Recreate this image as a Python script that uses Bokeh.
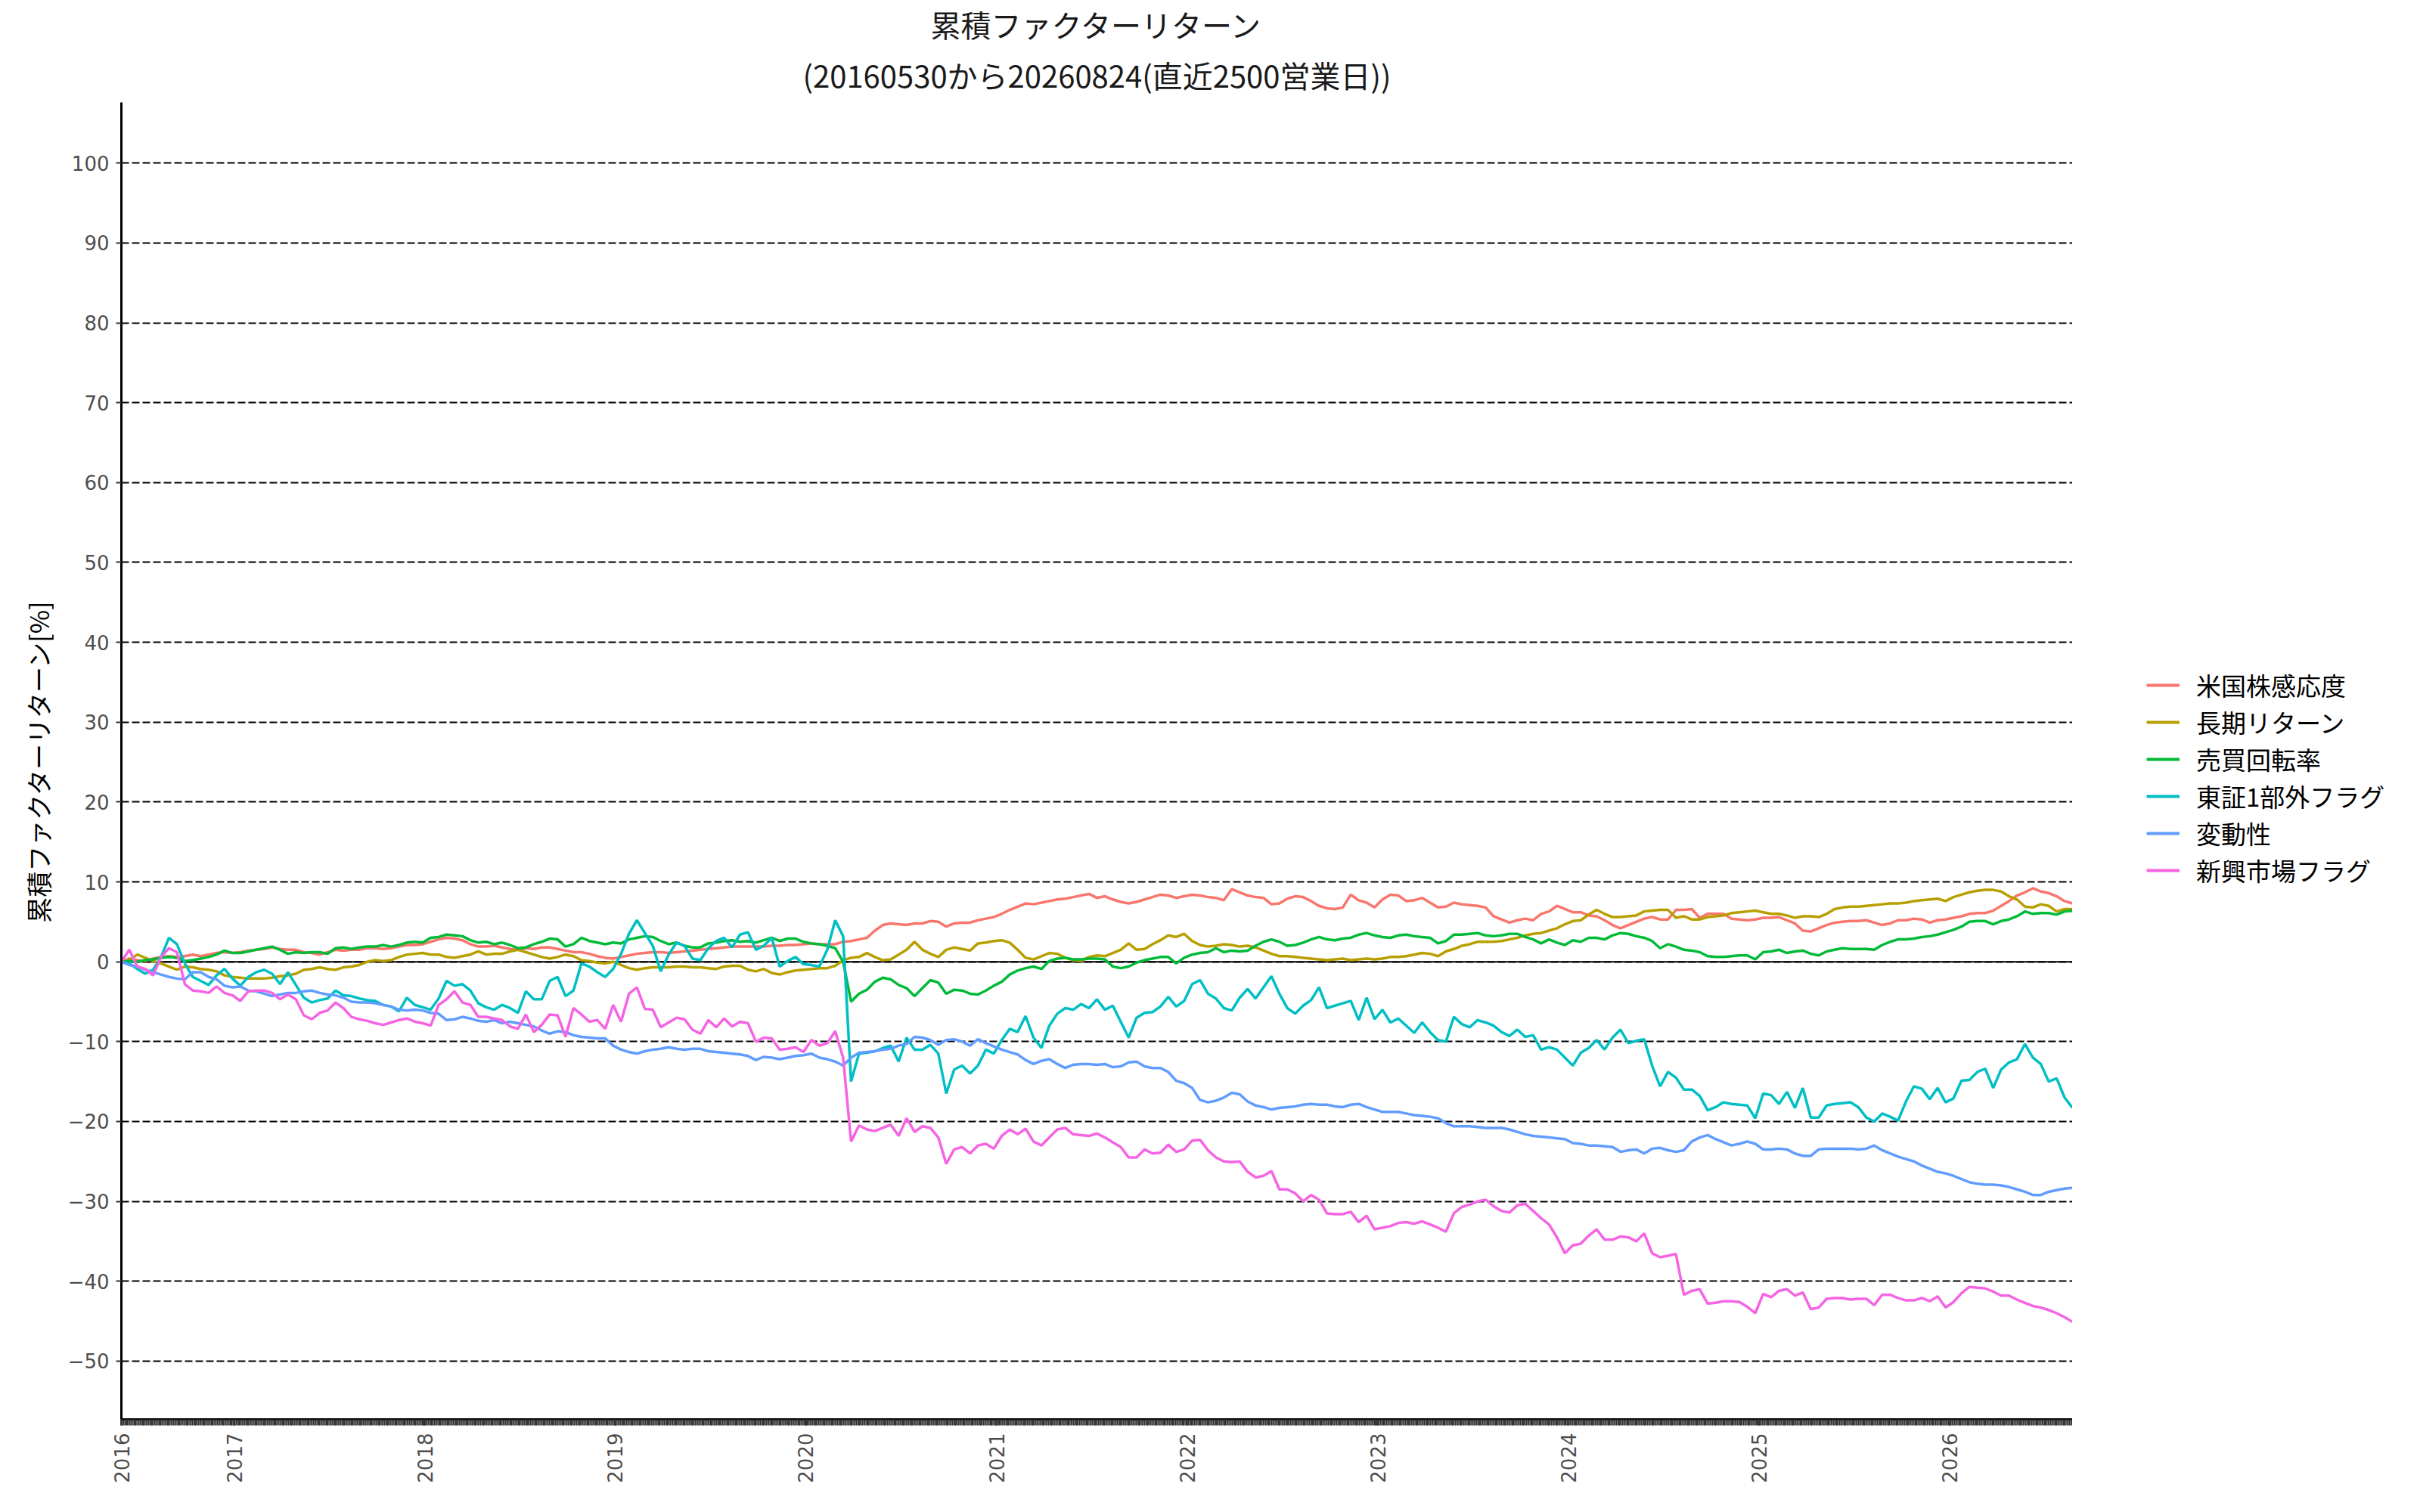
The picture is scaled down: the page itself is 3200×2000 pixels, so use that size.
import math
import pandas as pd
from bokeh.plotting import figure
from bokeh.layouts import row
from bokeh.models import (Range1d, FixedTicker, DatetimeTickFormatter, Span,
                          Legend, LegendItem, Title)
from bokeh.embed import file_html
from bokeh.resources import INLINE

START = "2016-05-30"
END = "2026-08-24"

title_lines = ["累積ファクターリターン", "(20160530から20260824(直近2500営業日))"]
names = ["米国株感応度", "長期リターン", "売買回転率", "東証1部外フラグ", "変動性", "新興市場フラグ"]
colors = ["#F8766D", "#B79F00", "#00BA38", "#00BFC4", "#619CFF", "#F564E3"]

us_sensitivity = [
    0, 0.4, 0.2, 0.1, 0.4, 0.6, 0.7, 0.6, 0.7, 0.9,
    0.7, 0.9, 1.1, 1.2, 1.1, 1.2, 1.4, 1.5, 1.6, 1.8,
    1.6, 1.5, 1.5, 1.2, 1.1, 0.9, 1.2, 1.5, 1.4, 1.5,
    1.5, 1.7, 1.7, 1.6, 1.7, 1.9, 2.1, 2.1, 2.2, 2.5,
    2.8, 3.0, 2.9, 2.7, 2.2, 1.9, 1.9, 2.0, 1.8, 1.6,
    1.5, 1.7, 1.6, 1.8, 1.8, 1.6, 1.4, 1.2, 1.2, 1.0,
    0.7, 0.5, 0.4,
    0.6, 0.8, 1.0, 1.1, 1.2, 1.2, 1.1, 1.2, 1.3, 1.4,
    1.5, 1.6, 1.7, 1.8, 1.9, 1.9, 1.9, 1.9, 1.9, 2.0,
    2.0, 2.1, 2.1, 2.2, 2.3, 2.2, 2.2, 2.2, 2.5, 2.6,
    2.8, 3.0, 3.9, 4.6, 4.8, 4.7, 4.6, 4.8, 4.8, 5.1,
    5.0, 4.4, 4.8, 4.9, 4.9, 5.2, 5.4, 5.6, 6.0, 6.5,
    6.9, 7.3, 7.2, 7.4, 7.6, 7.8, 7.9, 8.1, 8.3, 8.5,
    8.0,
    8.2, 7.8, 7.5, 7.3, 7.5, 7.8, 8.1, 8.4, 8.3, 8.0,
    8.2, 8.4, 8.3, 8.1, 8.0, 7.7, 9.1, 8.7, 8.3, 8.1,
    8.0, 7.2, 7.3, 7.9, 8.2, 8.1, 7.6, 7.0, 6.7, 6.6,
    6.8, 8.4, 7.7, 7.4, 6.8, 7.8, 8.4, 8.3, 7.6, 7.7,
    8.0, 7.4, 6.8, 6.9, 7.4, 7.2, 7.1, 7.0, 6.8, 5.7,
    5.3, 4.9, 5.2, 5.4, 5.2, 6.0, 6.3, 7.0, 6.6, 6.2,
    6.2, 5.8, 5.7, 5.2, 4.6, 4.2, 4.6, 5.0, 5.4, 5.6,
    5.3, 5.3, 6.5, 6.5, 6.6, 5.5, 6.0, 6.0, 6.0, 5.4,
    5.3, 5.2, 5.3, 5.5, 5.5, 5.6, 5.2, 4.8, 3.9, 3.8,
    4.2, 4.6, 4.9, 5.0, 5.1, 5.1, 5.2, 4.9, 4.6, 4.8,
    5.2, 5.2, 5.4, 5.3, 4.9, 5.2, 5.3, 5.5, 5.7, 6.0,
    6.1, 6.1, 6.4, 7.0, 7.6, 8.3, 8.7, 9.2, 8.8, 8.6,
    8.2, 7.6, 7.3,
]

long_term_return = [
    0, 0.2, 0.9, 0.5, 0.1, -0.2, -0.6, -1.0, -0.6, -0.7,
    -0.9, -1.0, -1.2, -1.7, -1.9, -2.0, -2.1, -2.1, -2.1, -2.0,
    -1.8, -1.7, -1.5, -1.0, -0.9, -0.7, -0.9, -1.0, -0.7, -0.6,
    -0.4, 0, 0.2, 0.1, 0.2, 0.6, 0.9, 1.0, 1.1, 0.9,
    0.9, 0.6, 0.5, 0.7, 0.9, 1.3, 0.9, 1.0, 1.0, 1.3,
    1.5, 1.2, 0.9, 0.6, 0.4, 0.6, 0.9, 0.7, 0.2, 0.1,
    -0.1, -0.2, 0,
    -0.4, -0.8, -1.0, -0.8, -0.7, -0.7, -0.7, -0.6, -0.6, -0.7,
    -0.7, -0.8, -0.9, -0.6, -0.5, -0.5, -1.0, -1.2, -0.9, -1.4,
    -1.6, -1.3, -1.1, -1.0, -0.9, -0.8, -0.8, -0.5, 0.2, 0.5,
    0.6, 1.1, 0.6, 0.2, 0.3, 0.9, 1.5, 2.5, 1.5, 1.0,
    0.6, 1.5, 1.8, 1.6, 1.4, 2.3, 2.4, 2.6, 2.7, 2.4,
    1.5, 0.5, 0.3, 0.7, 1.1, 1.0, 0.5, 0.2, 0.1, 0.6,
    0.8,
    0.7, 1.1, 1.5, 2.3, 1.5, 1.6, 2.2, 2.7, 3.3, 3.1,
    3.5, 2.6, 2.1, 1.9, 2.0, 2.2, 2.1, 1.9, 2.0, 1.8,
    1.4, 1.0, 0.7, 0.7, 0.6, 0.5, 0.4, 0.3, 0.2, 0.3,
    0.4, 0.2, 0.3, 0.4, 0.3, 0.4, 0.6, 0.6, 0.7, 0.9,
    1.1, 1.0, 0.7, 1.3, 1.6, 2.0, 2.2, 2.5, 2.5, 2.5,
    2.6, 2.8, 3.0, 3.3, 3.5, 3.6, 3.9, 4.2, 4.7, 5.1,
    5.2, 5.9, 6.5, 6.0, 5.6, 5.6, 5.7, 5.8, 6.3, 6.4,
    6.5, 6.5, 5.5, 5.7, 5.3, 5.3, 5.6, 5.7, 5.8, 6.1,
    6.2, 6.3, 6.4, 6.2, 6.0, 6.0, 5.8, 5.5, 5.7, 5.7,
    5.6, 6.0, 6.6, 6.8, 6.9, 6.9, 7.0, 7.1, 7.2, 7.3,
    7.3, 7.4, 7.6, 7.7, 7.8, 7.9, 7.6, 8.1, 8.4, 8.7,
    8.9, 9.0, 9.0, 8.8, 8.2, 7.8, 6.9, 6.8, 7.2, 7.0,
    6.3, 6.6, 6.6,
]

turnover = [
    0, 0.1, 0, 0.2, 0.3, 0.5, 0.6, 0.5, 0.1, 0.2,
    0.4, 0.6, 0.9, 1.4, 1.1, 1.1, 1.3, 1.5, 1.7, 1.9,
    1.5, 1.0, 1.2, 1.1, 1.2, 1.2, 1.0, 1.7, 1.8, 1.6,
    1.8, 1.9, 1.9, 2.1, 1.9, 2.1, 2.4, 2.5, 2.4, 3.0,
    3.1, 3.4, 3.3, 3.2, 2.7, 2.4, 2.5, 2.2, 2.4, 2.1,
    1.7, 1.8, 2.2, 2.5, 2.9, 2.8, 1.9, 2.2, 3.0, 2.6,
    2.4, 2.2, 2.4,
    2.3, 2.8, 3.0, 3.2, 3.1, 2.6, 2.2, 2.4, 2.0, 1.8,
    1.8, 2.3, 2.4, 2.6, 2.7, 2.5, 2.6, 2.4, 2.7, 3.0,
    2.6, 2.9, 2.9, 2.5, 2.3, 2.2, 2.0, 1.7, 0.0, -5.0,
    -4.0, -3.5, -2.5, -2.0, -2.2, -2.9, -3.3, -4.3, -3.3, -2.3,
    -2.6, -4.0, -3.5, -3.6, -4.0, -4.1, -3.6, -3.0, -2.5, -1.6,
    -1.1, -0.8, -0.6, -0.9, 0.1, 0.4, 0.5, 0.3, 0.3, 0.4,
    0.4,
    0.3, -0.6, -0.8, -0.6, -0.1, 0.2, 0.4, 0.6, 0.6, -0.2,
    0.5, 0.9, 1.1, 1.2, 1.7, 1.2, 1.4, 1.3, 1.4, 2.0,
    2.5, 2.8, 2.5, 2.0, 2.1, 2.4, 2.8, 3.1, 2.8, 2.7,
    2.9, 3.0, 3.4, 3.6, 3.3, 3.1, 3.0, 3.3, 3.4, 3.2,
    3.1, 3.0, 2.3, 2.6, 3.4, 3.4, 3.5, 3.6, 3.3, 3.2,
    3.3, 3.5, 3.5, 3.1, 2.8, 2.3, 2.8, 2.4, 2.1, 2.7,
    2.5, 3.0, 3.0, 2.8, 3.3, 3.6, 3.5, 3.2, 3.0, 2.6,
    1.7, 2.2, 1.9, 1.5, 1.4, 1.2, 0.7, 0.6, 0.6, 0.7,
    0.8, 0.8, 0.3, 1.2, 1.3, 1.5, 1.1, 1.3, 1.4, 1.0,
    0.8, 1.3, 1.5, 1.7, 1.6, 1.6, 1.6, 1.5, 2.1, 2.5,
    2.8, 2.8, 2.9, 3.1, 3.2, 3.4, 3.7, 4.0, 4.4, 5.0,
    5.1, 5.1, 4.7, 5.1, 5.3, 5.7, 6.3, 6.0, 6.1, 6.1,
    5.9, 6.3, 6.4,
]

non_tse1_flag = [
    0, -0.2, -0.9, -1.5, -1.0, 0.6, 3.0, 2.2, -0.2, -1.9,
    -2.4, -2.9, -1.7, -0.9, -2.1, -3.0, -1.9, -1.3, -1.0, -1.5,
    -2.8, -1.3, -2.9, -4.5, -5.1, -4.8, -4.6, -3.6, -4.2, -4.3,
    -4.6, -4.8, -4.9, -5.4, -5.6, -6.2, -4.5, -5.4, -5.7, -6.0,
    -4.6, -2.4, -3.0, -2.8, -3.6, -5.2, -5.7, -6.0, -5.4, -5.8,
    -6.4, -3.7, -4.7, -4.7, -2.4, -1.9, -4.3, -3.6, -0.2, -0.6,
    -1.3, -1.9, -0.9,
    1.0, 3.5, 5.2, 3.6, 2.0, -1.2, 0.9, 2.4, 2.0, 0.4,
    0.2, 1.7, 2.6, 3.0, 1.8, 3.4, 3.7, 1.5, 2.0, 3.0,
    -0.6, 0.1, 0.6, -0.3, -0.4, -0.6, 1.5, 5.2, 3.2, -15.0,
    -11.5, -11.4, -11.2, -10.8, -10.5, -12.5, -9.5, -11.0, -11.0, -10.4,
    -11.5, -16.5, -13.5, -13.0, -14.0, -13.0, -11.0, -11.5, -9.8, -8.4,
    -8.8, -6.8, -9.5, -10.8, -8.0, -6.5, -5.8, -6.0, -5.3, -5.8,
    -4.7,
    -6.0, -5.5, -7.5, -9.5, -7.0, -6.4, -6.3, -5.6, -4.4, -5.6,
    -4.9, -2.8, -2.3, -4.0, -4.6, -5.8, -6.1, -4.5, -3.4, -4.6,
    -3.2, -1.8, -4.0, -5.8, -6.5, -5.5, -4.8, -3.2, -5.8, -5.5,
    -5.2, -4.9, -7.3, -4.5, -7.2, -6.0, -7.6, -7.1, -8.0, -8.9,
    -7.6, -8.8, -9.8, -10.0, -6.9, -7.8, -8.2, -7.3, -7.6, -8.0,
    -8.8, -9.3, -8.5, -9.4, -9.2, -11.0, -10.7, -11.0, -12.0, -13.0,
    -11.4, -10.8, -9.8, -11.0, -9.5, -8.5, -10.2, -9.9, -9.7, -13.0,
    -15.6, -13.8, -14.5, -16.0, -16.0, -16.8, -18.6, -18.2, -17.6, -17.8,
    -17.9, -18.0, -19.6, -16.5, -16.7, -17.8, -16.3, -18.3, -15.8, -19.5,
    -19.5, -18.0, -17.8, -17.7, -17.6, -18.2, -19.5, -20.0, -19.0, -19.4,
    -19.9, -17.5, -15.6, -15.9, -17.2, -15.8, -17.6, -17.1, -14.9, -14.8,
    -13.8, -13.4, -15.8, -13.5, -12.6, -12.2, -10.3, -12.0, -12.8, -15.0,
    -14.6, -17.0, -18.3,
]

volatility = [
    0, -0.4, -0.6, -1.0, -1.3, -1.6, -1.9, -2.1, -2.2, -1.3,
    -1.3, -1.9, -2.2, -3.0, -3.2, -3.1, -3.6, -3.7, -4.0, -4.3,
    -4.1, -3.9, -3.9, -3.7, -3.6, -3.9, -4.1, -4.2, -4.5, -5.0,
    -5.1, -5.1, -5.2, -5.4, -5.6, -6.0, -6.1, -6.0, -6.1, -6.4,
    -6.5, -7.3, -7.2, -6.9, -7.1, -7.4, -7.5, -7.3, -7.7, -7.5,
    -7.7, -7.9, -8.1, -8.6, -9.0, -8.7, -8.8, -9.2, -9.4, -9.5,
    -9.6, -9.6, -10.5,
    -11.0, -11.3, -11.5, -11.2, -11.0, -10.9, -10.7, -10.9, -11.0, -10.9,
    -10.9, -11.2, -11.3, -11.4, -11.5, -11.6, -11.8, -12.3, -11.9, -12.0,
    -12.2, -12.0, -11.8, -11.7, -11.5, -12.0, -12.2, -12.5, -13.0, -12.0,
    -11.4, -11.3, -11.2, -11.0, -10.9, -10.5, -10.3, -9.4, -9.5, -9.8,
    -10.4, -9.8, -9.7, -10.0, -10.5, -9.7, -10.2, -10.6, -11.0, -11.3,
    -11.6, -12.3, -12.8, -12.4, -12.2, -12.8, -13.3, -12.9, -12.8, -12.8,
    -12.9,
    -12.8, -13.2, -13.1, -12.6, -12.5, -13.1, -13.3, -13.3, -13.8, -14.9,
    -15.2, -15.8, -17.3, -17.6, -17.4, -17.0, -16.4, -16.6, -17.5, -18.0,
    -18.2, -18.5, -18.3, -18.2, -18.1, -17.9, -17.8, -17.9, -17.9, -18.1,
    -18.2, -17.9, -17.8, -18.2, -18.5, -18.8, -18.8, -18.8, -19.0, -19.2,
    -19.3, -19.4, -19.6, -20.2, -20.6, -20.6, -20.6, -20.7, -20.8, -20.8,
    -20.8, -21.0, -21.3, -21.6, -21.8, -21.9, -22.0, -22.1, -22.2, -22.7,
    -22.8, -23.0, -23.0, -23.1, -23.2, -23.8, -23.6, -23.5, -24.0, -23.4,
    -23.3, -23.6, -23.8, -23.6, -22.5, -22.0, -21.7, -22.2, -22.6, -23.0,
    -22.8, -22.5, -22.8, -23.5, -23.5, -23.4, -23.5, -24.0, -24.3, -24.3,
    -23.5, -23.4, -23.4, -23.4, -23.4, -23.5, -23.4, -23.0, -23.6, -24.0,
    -24.4, -24.7, -25.0, -25.5, -25.9, -26.3, -26.5, -26.8, -27.2, -27.6,
    -27.8, -27.9, -27.9, -28.0, -28.2, -28.5, -28.8, -29.2, -29.2, -28.8,
    -28.6, -28.4, -28.3,
]

emerging_flag = [
    0, 1.5, -0.6, -0.9, -1.7, 0.6, 1.7, 1.2, -2.8, -3.6,
    -3.7, -3.9, -3.1, -3.9, -4.2, -4.9, -3.7, -3.6, -3.6, -3.9,
    -4.7, -4.1, -4.7, -6.7, -7.2, -6.4, -6.1, -5.1, -5.8, -6.9,
    -7.2, -7.4, -7.7, -7.9, -7.6, -7.3, -7.1, -7.5, -7.7, -8.0,
    -5.4, -4.7, -3.7, -5.1, -5.4, -6.9, -6.9, -7.1, -7.3, -8.1,
    -8.4, -6.6, -8.8, -7.9, -6.6, -6.7, -9.4, -5.8, -6.6, -7.5,
    -7.3, -8.4, -5.4,
    -7.5, -4.0, -3.2, -5.9, -6.0, -8.2, -7.6, -7.0, -7.2, -8.5,
    -9.0, -7.3, -8.2, -7.1, -8.1, -7.5, -7.7, -10.0, -9.5, -9.6,
    -11.0, -10.9, -10.7, -11.3, -9.8, -10.5, -10.2, -8.7, -12.0, -22.5,
    -20.5, -21.0, -21.2, -20.8, -20.4, -21.8, -19.6, -21.3, -20.6, -20.8,
    -22.0, -25.3, -23.5, -23.2, -24.0, -23.0, -22.8, -23.4, -21.8, -21.0,
    -21.6, -20.9, -22.5, -23.0, -22.0, -21.0, -20.8, -21.6, -21.7, -21.8,
    -21.5,
    -22.0, -22.6, -23.2, -24.5, -24.5, -23.5, -24.0, -23.9, -22.9, -23.8,
    -23.5, -22.4, -22.3, -23.6, -24.5, -25.0, -25.1, -25.0, -26.3, -27.0,
    -26.8, -26.2, -28.5, -28.5, -29.0, -30.0, -29.2, -29.8, -31.5, -31.6,
    -31.6, -31.3, -32.6, -31.8, -33.5, -33.3, -33.1, -32.7, -32.6, -32.8,
    -32.5, -32.9, -33.3, -33.8, -31.5, -30.7, -30.4, -30.0, -29.8, -30.6,
    -31.2, -31.4, -30.5, -30.3, -31.2, -32.1, -32.9, -34.5, -36.5, -35.5,
    -35.3, -34.3, -33.5, -34.8, -34.8, -34.4, -34.5, -35.0, -34.0, -36.5,
    -37.0, -36.8, -36.6, -41.7, -41.2, -41.0, -42.8, -42.7, -42.5, -42.5,
    -42.6, -43.2, -44.0, -41.6, -42.0, -41.2, -41.0, -41.8, -41.4, -43.5,
    -43.3, -42.2, -42.1, -42.1, -42.3, -42.2, -42.2, -43.0, -41.7, -41.7,
    -42.1, -42.4, -42.4, -42.1, -42.5, -41.9, -43.3, -42.6, -41.5, -40.7,
    -40.8, -40.9, -41.3, -41.8, -41.8, -42.3, -42.7, -43.1, -43.3, -43.6,
    -44.0, -44.5, -45.1,
]

series = [us_sensitivity, long_term_return, turnover, non_tse1_flag, volatility, emerging_flag]

year_ticks = [START] + ["%d-01-01" % y for y in range(2017, 2027)]
y_ticks = list(range(-50, 101, 10))

n = len(us_sensitivity)
dates = pd.date_range(START, END, periods=n)

JP = "Noto Sans CJK JP"
H = 1984
LW = 3.5

p = figure(width=2740, height=H, x_axis_type="datetime",
           output_backend="svg", toolbar_location=None,
           x_range=Range1d(pd.Timestamp(START), pd.Timestamp(END)),
           y_range=Range1d(-57.3, 107.6),
           min_border_left=160, min_border_right=0,
           min_border_top=131, min_border_bottom=107)

p.background_fill_color = "white"
p.border_fill_color = "white"
p.outline_line_color = None

# two centred title lines (the later one is placed further from the frame)
sub = Title(text=title_lines[1], align="center", text_font=JP,
            text_font_size="40px", text_font_style="normal",
            text_color="#1a1a1a", standoff=15)
main = Title(text=title_lines[0], align="center", text_font=JP,
             text_font_size="40px", text_font_style="normal",
             text_color="#1a1a1a", standoff=0)
p.add_layout(sub, "above")
p.add_layout(main, "above")

# grid
p.xgrid.grid_line_color = None
p.ygrid.grid_line_color = "black"
p.ygrid.grid_line_width = 2
p.ygrid.grid_line_dash = "10 4"

# y axis
yax = p.yaxis[0]
yax.ticker = FixedTicker(ticks=y_ticks)
yax.axis_line_color = "black"
yax.axis_line_width = 3
yax.major_tick_line_color = "#333333"
yax.major_tick_line_width = 2
yax.major_tick_out = 7
yax.major_tick_in = 0
yax.minor_tick_line_color = None
yax.major_label_text_font = "DejaVu Sans"
yax.major_label_text_font_size = "26px"
yax.major_label_text_color = "#4d4d4d"
yax.major_label_standoff = 9
yax.axis_label = "累積ファクターリターン[%]"
yax.axis_label_text_font = JP
yax.axis_label_text_font_size = "34px"
yax.axis_label_text_font_style = "normal"
yax.axis_label_text_color = "black"
yax.axis_label_standoff = 12

# x axis
xax = p.xaxis[0]
minor = [t.value / 1e6 for t in pd.date_range(START, END, freq="4D")]
xax.ticker = FixedTicker(ticks=[pd.Timestamp(t).value / 1e6 for t in year_ticks],
                         minor_ticks=minor)
fmt = "%Y"
xax.formatter = DatetimeTickFormatter(years=fmt, months=fmt, days=fmt, hours=fmt,
                                      hourmin=fmt, minutes=fmt, minsec=fmt,
                                      seconds=fmt, milliseconds=fmt, microseconds=fmt)
xax.axis_line_color = "black"
xax.axis_line_width = 3
xax.major_tick_line_color = "#333333"
xax.major_tick_line_width = 2.5
xax.major_tick_out = 8
xax.major_tick_in = 0
xax.minor_tick_line_color = "#333333"
xax.minor_tick_line_width = 2.5
xax.minor_tick_out = 8
xax.minor_tick_in = 0
xax.major_label_orientation = math.pi / 2
xax.major_label_text_font = "DejaVu Sans"
xax.major_label_text_font_size = "26px"
xax.major_label_text_color = "#4d4d4d"
xax.major_label_standoff = 10

zero = Span(location=0, dimension="width", line_color="black", line_width=2,
            level="underlay")
p.add_layout(zero)

for col, vals in zip(colors, series):
    p.line(dates, vals, line_color=col, line_width=LW)

# legend panel: a blank companion figure to the right of the plot
lp = figure(width=444, height=H, output_backend="svg", toolbar_location=None,
            x_range=Range1d(0, 1), y_range=Range1d(0, 1),
            min_border_left=0, min_border_right=0,
            min_border_top=0, min_border_bottom=0)
lp.axis.visible = False
lp.grid.visible = False
lp.outline_line_color = None
lp.background_fill_color = "white"
lp.border_fill_color = "white"

nan = float("nan")
items = []
for name, col in zip(names, colors):
    # legend-only renderer: no visible data, just carries the line style
    r = lp.line(x=[nan], y=[nan], line_color=col, line_width=LW + 0.5)
    items.append(LegendItem(label=name, renderers=[r], index=0))

legend = Legend(items=items, location=(98, 702))
legend.label_text_font = JP
legend.label_text_font_size = "33px"
legend.label_text_color = "black"
legend.glyph_width = 44
legend.glyph_height = 32
legend.label_height = 32
legend.label_standoff = 22
legend.spacing = 1
legend.padding = 0
legend.margin = 0
legend.border_line_color = None
legend.background_fill_alpha = 0
lp.add_layout(legend)

layout = row(p, lp, spacing=0)
open("out.html", "w").write(file_html(layout, INLINE))
